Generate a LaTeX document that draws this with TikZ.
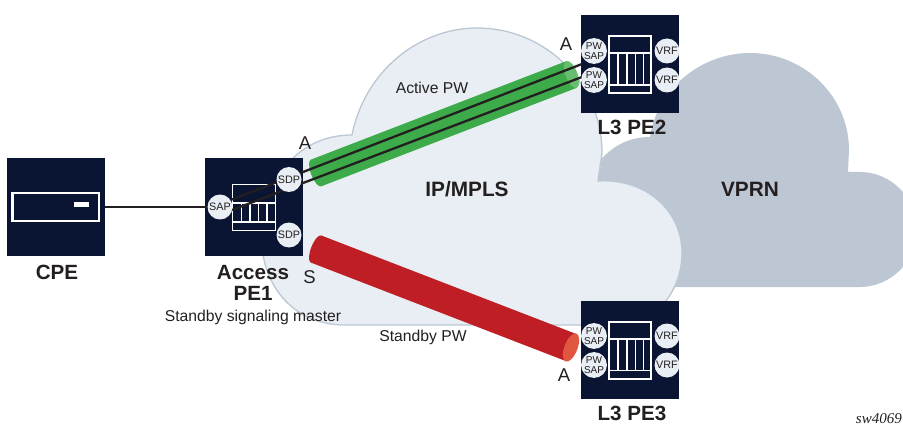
\documentclass[tikz,border=0pt]{standalone}
\usepackage{fontspec}
\setmainfont{Liberation Sans}
\newfontfamily\serifit[ItalicFont=Liberation Serif Italic]{Liberation Serif}
\definecolor{navy}{HTML}{0A1433}
\definecolor{lightcloud}{HTML}{E8EEF3}
\definecolor{greycloud}{HTML}{BCC7D3}
\definecolor{ink}{HTML}{231F20}
\definecolor{tubegreen}{HTML}{3DAB4A}
\definecolor{tubegreenend}{HTML}{67BE6E}
\definecolor{tubered}{HTML}{BE1E24}
\definecolor{tubeend}{HTML}{E0563F}
\tikzset{
  x=1pt,y=-1pt,
  devicebox/.style={fill=navy,draw=none,inner sep=0pt,minimum width=98pt,minimum height=98pt},
  port/.style={circle,fill=lightcloud,draw=none,inner sep=0pt,minimum size=25pt,font=\fontsize{10.8}{9}\selectfont,text=ink,align=center},
  pwport/.style={port,font=\fontsize{10}{9.4}\selectfont},
  biglabel/.style={font=\bfseries\fontsize{20.6}{21}\selectfont,text=ink,align=center,inner sep=0pt},
  cloudlabel/.style={font=\bfseries\fontsize{20.8}{22}\selectfont,text=ink,inner sep=0pt},
  smalllabel/.style={font=\fontsize{15.7}{17}\selectfont,text=ink,inner sep=0pt},
  letter/.style={font=\fontsize{18.5}{20}\selectfont,text=ink,inner sep=0pt},
  wire/.style={draw=ink,line width=2.3pt},
  shelf/.style={draw=white,line width=1.9pt},
}
\begin{document}
\begin{tikzpicture}
\useasboundingbox (0,0) rectangle (903,425);
\clip (0,0) rectangle (903,425);
% clouds
\fill[greycloud] (598,181) -- (602,158) .. controls (615,145) and (630,137) .. (650,137)
  .. controls (657,90) and (700,53) .. (750,53)
  .. controls (805,53) and (849,97) .. (849,150) -- (848,172) -- (860,172)
  .. controls (891,172) and (917,198) .. (917,229.5)
  .. controls (917,261) and (891,287) .. (860,287) -- (660,287) -- cycle;
\filldraw[fill=lightcloud,draw=greycloud,line width=1.3pt] (293,158) .. controls (310,142) and (330,135) .. (352,135)
  .. controls (365,70) and (420,28) .. (477,28)
  .. controls (546,28) and (602,84) .. (602,153) -- (598,181)
  .. controls (645,178) and (682,210) .. (682,253)
  .. controls (682,272) and (675,290) .. (665,302) -- (642,325) -- (345,325)
  .. controls (300,325) and (270,295) .. (263,255)
  .. controls (255,210) and (270,180) .. (293,158) -- cycle;
% devices
\node[devicebox] (cpe) at (55.5,207) {};
\node[devicebox] (pea) at (254,207) {};
\node[devicebox] (peb) at (630,64) {};
\node[devicebox] (pec) at (630,349.5) {};
% CPE faceplate
\draw[draw=white,line width=2.2pt] (12.5,193) rectangle (99,221);
\fill[white] (74,202) rectangle (89,207);
% PE1 shelf
\draw[shelf] (232.5,184.5) rectangle (275.5,230.5);
\draw[shelf] (232.5,203) -- (275.5,203) (232.5,222) -- (275.5,222);
\draw[shelf] (241.5,203) -- (241.5,222) (250,203) -- (250,222) (258.5,203) -- (258.5,222) (267,203) -- (267,222);
% PE2 shelf
\draw[shelf] (609,36) rectangle (651,93);
\draw[shelf] (609,53) -- (651,53) (609,85) -- (651,85);
\draw[shelf] (618,53) -- (618,85) (627,53) -- (627,85) (635.5,53) -- (635.5,85) (643.5,53) -- (643.5,85);
% PE3 shelf
\draw[shelf] (609,322) rectangle (651,379);
\draw[shelf] (609,339) -- (651,339) (609,370.5) -- (651,370.5);
\draw[shelf] (618,339) -- (618,370.5) (627,339) -- (627,370.5) (635.5,339) -- (635.5,370.5) (643.5,339) -- (643.5,370.5);
% tubes
\coordinate (gl) at (316,173);
\coordinate (gr) at (571.5,74.5);
\coordinate (rl) at (316,249);
\coordinate (rr) at (571,347.5);
\draw[tubegreen,line width=28.6pt] (gl) -- (gr);
\fill[tubegreen,shift={(gl)},rotate=21.1] (0,0) ellipse [x radius=5pt,y radius=14.3pt];
\fill[tubegreenend,shift={(gr)},rotate=21.1] (0,0) ellipse [x radius=6pt,y radius=14.3pt];
\draw[tubered,line width=29pt] (rl) -- (rr);
\fill[tubered,shift={(rl)},rotate=-21.1] (0,0) ellipse [x radius=5pt,y radius=14.5pt];
\fill[tubeend,shift={(rr)},rotate=-21.1] (0,0) ellipse [x radius=6.5pt,y radius=15pt];
% wires
\coordinate (wa) at (232,199.5);
\coordinate (wb) at (582,64);
\coordinate (wc) at (232,210);
\coordinate (wd) at (582,77);
\draw[wire] (wa) -- (wb);
\draw[wire] (wc) -- (wd);
% ports
\node[port] (sap) at (220,207) {SAP};
\node[port] (sdpa) at (289,179.5) {SDP};
\node[port] (sdpb) at (289,235) {SDP};
\node[pwport] (ba) at (594,51) {PW\\SAP};
\node[pwport] (bb) at (594,80) {PW\\SAP};
\node[port] (bc) at (667,51) {VRF};
\node[port] (bd) at (667,80) {VRF};
\node[pwport] (ca) at (594,336) {PW\\SAP};
\node[pwport] (cb) at (594,365) {PW\\SAP};
\node[port] (cc) at (667,336) {VRF};
\node[port] (cd) at (667,365) {VRF};
\draw[wire,line width=2.9pt] (cpe) -- (sap);
% labels
\node[biglabel] (tcpe) at (57,272) {CPE};
\node[biglabel] (tpe1) at (253,283) {Access\\PE1};
\node[biglabel] (tpe2) at (632,127) {L3 PE2};
\node[biglabel] (tpe3) at (632,413) {L3 PE3};
\node[smalllabel] (tmaster) at (253,317) {Standby signaling master};
\node[smalllabel] (tactive) at (432,88) {Active PW};
\node[smalllabel] (tstandby) at (423,337) {Standby PW};
\node[cloudlabel] (tmpls) at (467,189) {IP/MPLS};
\node[cloudlabel] (tvprn) at (750,189) {VPRN};
\node[letter] (la) at (305,143) {A};
\node[letter] (lb) at (566,44) {A};
\node[letter] (lc) at (564,375) {A};
\node[letter] (ls) at (309.5,277) {S};
\node[font=\serifit\itshape\fontsize{15}{18}\selectfont,text=ink,anchor=base east,inner sep=0pt] (tsw) at (902,423.5) {sw4069};
\end{tikzpicture}
\end{document}
